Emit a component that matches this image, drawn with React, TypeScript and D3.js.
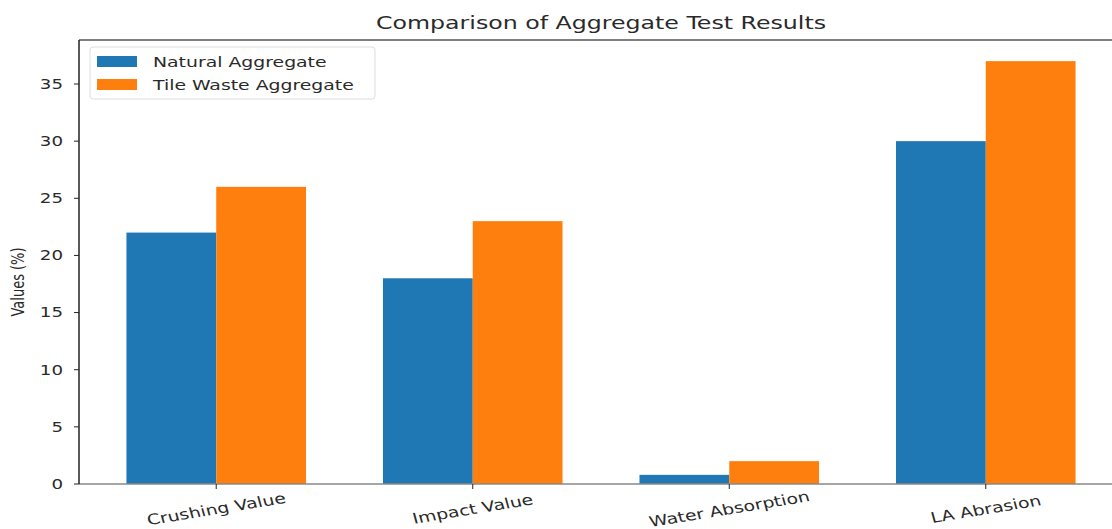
import React from "react";
import * as d3 from "d3";

const categories = ["Crushing Value", "Impact Value", "Water Absorption", "LA Abrasion"];
const naturalValues = [22, 18, 0.8, 30];
const tileValues = [26, 23, 2, 37];
const seriesNames = ["Natural Aggregate", "Tile Waste Aggregate"];
const yTicks = [0, 5, 10, 15, 20, 25, 30, 35];

const W = 1112;
const H = 529;
const left = 79;
const right = 1123;
const top = 40;
const bottom = 484;
const barW = 0.35;
const colors = ["#1f77b4", "#ff7f0e"];
const font = "DejaVu Sans, sans-serif";
const SX = 1.3;
const ink = "#2a2a2a";

export default function App() {
  const x = d3.scaleLinear().domain([-0.535, categories.length - 1 + 0.535]).range([left, right]);
  const y = d3.scaleLinear().domain([0, 38.85]).range([bottom, top]);
  const series = [naturalValues, tileValues];

  return (
    <div style={{ position: "absolute", left: 0, top: 0 }}>
      <svg width={W} height={H} style={{ display: "block", background: "#fff" }}>
        {series.map((vals, s) =>
          vals.map((v, i) => {
            const x0 = s === 0 ? x(i - barW) : x(i);
            const x1 = s === 0 ? x(i) : x(i + barW);
            return (
              <rect key={`${s}-${i}`} x={x0} y={y(v)} width={x1 - x0} height={y(0) - y(v)} fill={colors[s]} />
            );
          })
        )}
        {/* spines */}
        <line x1={left} x2={W} y1={top} y2={top} stroke="#555" strokeWidth={1.5} />
        <line x1={left} x2={W} y1={bottom} y2={bottom} stroke="#888" strokeWidth={1.5} />
        <line x1={left} x2={left} y1={top} y2={bottom} stroke="#222" strokeWidth={1.5} />
        {/* y ticks */}
        {yTicks.map((t) => (
          <g key={t}>
            <line x1={left - 5} x2={left} y1={y(t)} y2={y(t)} stroke="#222" strokeWidth={1} />
            <text
              transform={`translate(${left - 16},${y(t)}) scale(${SX},1)`}
              dy="0.35em"
              textAnchor="end"
              fontFamily={font}
              fontSize={14}
              fill={ink}
            >
              {t}
            </text>
          </g>
        ))}
        {/* x ticks */}
        {categories.map((c, i) => (
          <g key={c}>
            <line x1={x(i)} x2={x(i)} y1={bottom} y2={bottom + 5} stroke="#222" strokeWidth={1} />
            <text
              transform={`translate(${x(i)},${bottom + 25}) scale(${SX},1) rotate(-12)`}
              textAnchor="middle"
              dy="0.35em"
              fontFamily={font}
              fontSize={14.5}
              fill={ink}
            >
              {c}
            </text>
          </g>
        ))}
        {/* y label */}
        <text
          transform={`translate(24,${(top + bottom) / 2 + 20}) scale(${SX},1) rotate(-90)`}
          textAnchor="middle"
          fontFamily={font}
          fontSize={13}
          fill={ink}
        >
          Values (%)
        </text>
        {/* title */}
        <text
          transform={`translate(601,29) scale(1.28,1)`}
          textAnchor="middle"
          fontFamily={font}
          fontSize={18.5}
          fill={ink}
        >
          Comparison of Aggregate Test Results
        </text>
        {/* legend */}
        <rect x={90} y={47} width={285} height={52} fill="#fff" stroke="#ddd" strokeWidth={1} rx={3} />
        {seriesNames.map((n, i) => (
          <g key={n}>
            <rect x={97} y={56 + i * 23} width={40} height={11} fill={colors[i]} />
            <text
              transform={`translate(153,${61.5 + i * 23}) scale(${SX},1)`}
              dy="0.35em"
              fontFamily={font}
              fontSize={14.5}
              fill={ink}
            >
              {n}
            </text>
          </g>
        ))}
      </svg>
    </div>
  );
}
